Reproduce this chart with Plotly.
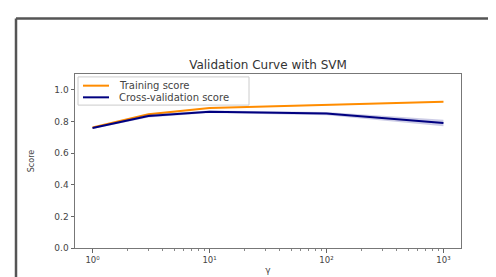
import plotly.graph_objects as go

param_range = [1, 3, 10, 100, 1000]
train_mean = [0.762, 0.845, 0.885, 0.905, 0.925]
train_std = [0.003, 0.004, 0.003, 0.003, 0.003]
cv_mean = [0.758, 0.835, 0.862, 0.850, 0.790]
cv_std = [0.006, 0.010, 0.008, 0.010, 0.020]
series_names = ["Training score", "Cross-validation score"]
y_ticks = [0.0, 0.2, 0.4, 0.6, 0.8, 1.0]
x_ticks = [1, 10, 100, 1000]
x_tick_labels = ["10⁰", "10¹", "10²", "10³"]
minor_ticks = [m * d for d in (1, 10, 100) for m in range(2, 10)]

W, H = 496, 277
L, R, T, B = 67, 43, 66, 32
pw, ph = W - L - R, H - T - B

orange = "#ff8c00"
navy = "#000080"
font = "DejaVu Sans"
txt = "#444444"

def px(x):
    return (x - L) / pw

def py(y):
    return 1 - (y - T) / ph

fig = go.Figure()

def band(mean, std, color):
    up = [m + s for m, s in zip(mean, std)]
    lo = [m - s for m, s in zip(mean, std)]
    fig.add_trace(go.Scatter(x=param_range, y=lo, mode="lines", line=dict(width=0),
                             showlegend=False, hoverinfo="skip"))
    fig.add_trace(go.Scatter(x=param_range, y=up, mode="lines", line=dict(width=0),
                             fill="tonexty", fillcolor=color, showlegend=False, hoverinfo="skip"))

band(train_mean, train_std, "rgba(255,140,0,0.2)")
fig.add_trace(go.Scatter(x=param_range, y=train_mean, mode="lines", name=series_names[0],
                         line=dict(color=orange, width=2), showlegend=False))
band(cv_mean, cv_std, "rgba(0,0,128,0.2)")
fig.add_trace(go.Scatter(x=param_range, y=cv_mean, mode="lines", name=series_names[1],
                         line=dict(color=navy, width=2), showlegend=False))

# invisible trace for minor ticks overlay axis
fig.add_trace(go.Scatter(x=[param_range[0]], y=[0], xaxis="x2", mode="markers",
                         marker=dict(opacity=0), showlegend=False, hoverinfo="skip"))

fig.update_layout(
    width=W, height=H,
    margin=dict(l=L, r=R, t=T, b=B),
    paper_bgcolor="white", plot_bgcolor="white",
    font=dict(family=font, color=txt, size=8),
    title=dict(text="Validation Curve with SVM", x=(L + pw / 2) / W, xanchor="center",
               y=1 - 57 / H, yanchor="middle", font=dict(size=12, color="#333333")),
    xaxis=dict(type="log", range=[-0.15, 3.15], tickvals=x_ticks, ticktext=x_tick_labels,
               ticks="outside", ticklen=3.5, tickcolor="#666", showgrid=False, zeroline=False,
               showline=True, linecolor="#777", linewidth=1, mirror=True,
               title=dict(text="γ", standoff=2, font=dict(size=9)), tickfont=dict(size=8.5)),
    xaxis2=dict(type="log", range=[-0.15, 3.15], overlaying="x", side="bottom",
                tickvals=minor_ticks, showticklabels=False, ticks="outside", ticklen=2,
                tickcolor="#888", showgrid=False, zeroline=False, showline=False),
    yaxis=dict(range=[0, 1.1], tickvals=y_ticks, ticktext=[f"{v:.1f}" for v in y_ticks],
               ticks="outside", ticklen=3.5, tickcolor="#666", showgrid=False, zeroline=False,
               showline=True, linecolor="#777", linewidth=1, mirror=True,
               title=dict(text="Score", standoff=18, font=dict(size=8)), tickfont=dict(size=9)),
    showlegend=False,
)

# legend drawn manually (matplotlib-like compact legend)
fig.add_shape(type="rect", xref="paper", yref="paper", x0=px(70), x1=px(241), y0=py(98), y1=py(69),
              line=dict(color="#cccccc", width=1), fillcolor="rgba(255,255,255,0.85)", layer="above")
for i, (name, col) in enumerate(zip(series_names, [orange, navy])):
    yy = 78 + i * 12
    fig.add_shape(type="line", xref="paper", yref="paper", x0=px(75), x1=px(101), y0=py(yy), y1=py(yy),
                  line=dict(color=col, width=2), layer="above")
    fig.add_annotation(xref="paper", yref="paper", x=px(109), y=py(yy), text=name, showarrow=False,
                       xanchor="left", yanchor="middle", font=dict(size=10, color="#444"))

# outer frame (left and top edges of the screenshot border)
fx = (8 - L) / pw
fy = 1 + (T - 9) / ph
fig.add_shape(type="line", xref="paper", yref="paper", x0=fx, x1=fx, y0=fy, y1=-B / ph - 0.05,
              line=dict(color="#555555", width=2.5))
fig.add_shape(type="line", xref="paper", yref="paper", x0=fx, x1=1 + R / pw + 0.05, y0=fy, y1=fy,
              line=dict(color="#555555", width=2.5))

fig.write_html("out.html")
